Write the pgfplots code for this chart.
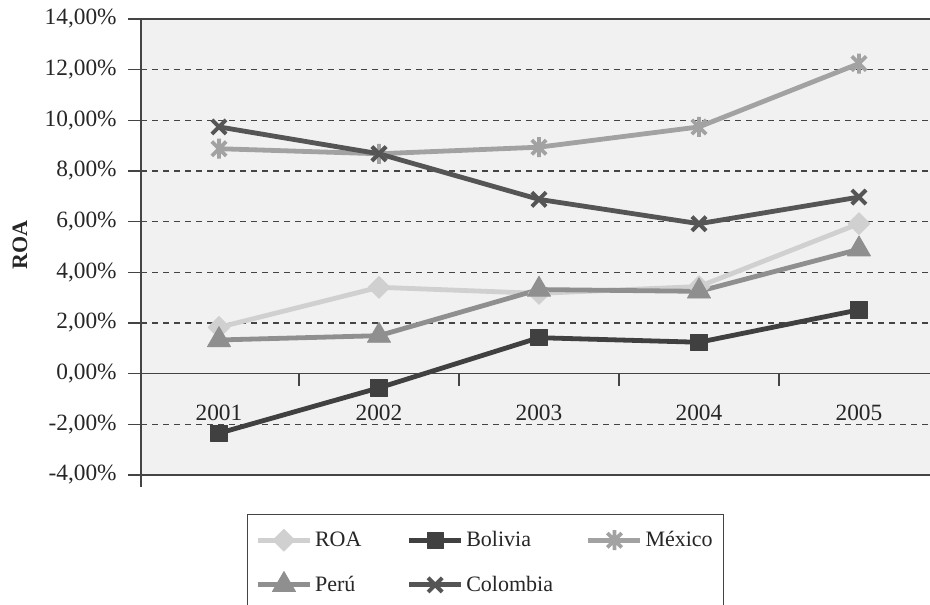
\documentclass[border=0pt]{standalone}
\usepackage{pgfplots}
\pgfplotsset{compat=1.18}
\usepackage{fontspec}
\setmainfont{Liberation Serif}

\definecolor{roa}{HTML}{D0D0D0}
\definecolor{bol}{HTML}{404040}
\definecolor{mex}{HTML}{A2A2A2}
\definecolor{per}{HTML}{8F8F8F}
\definecolor{col}{HTML}{555555}
\definecolor{plotbg}{HTML}{F1F1F1}
\definecolor{axisdark}{HTML}{444444}

\newcommand{\chartfont}{\fontsize{16.5}{19.8}\selectfont}
\newcommand{\tickfont}{\fontsize{17.5}{21}\selectfont}

% star mark: a vertical bar crossed by two diagonals
\pgfdeclareplotmark{xstar}{%
  \pgfpathmoveto{\pgfqpoint{0pt}{\pgfplotmarksize}}%
  \pgfpathlineto{\pgfqpoint{0pt}{-\pgfplotmarksize}}%
  \pgfpathmoveto{\pgfqpoint{-.72\pgfplotmarksize}{.72\pgfplotmarksize}}%
  \pgfpathlineto{\pgfqpoint{.72\pgfplotmarksize}{-.72\pgfplotmarksize}}%
  \pgfpathmoveto{\pgfqpoint{-.72\pgfplotmarksize}{-.72\pgfplotmarksize}}%
  \pgfpathlineto{\pgfqpoint{.72\pgfplotmarksize}{.72\pgfplotmarksize}}%
  \pgfusepathqstroke}

\begin{document}
\begin{tikzpicture}[font=\chartfont]
\begin{axis}[
  at={(105.75pt,-356.25pt)}, anchor=south west,
  scale only axis, width=591.75pt, height=342pt,
  xmin=-0.4875, xmax=4.444,
  ymin=-4, ymax=14,
  clip=false,
  axis line style={draw=none},
  axis background/.style={fill=plotbg},
  xtick=\empty,
  ytick={-4,-2,0,2,4,6,8,10,12,14},
  yticklabels={{-4,00\%},{-2,00\%},{0,00\%},{2,00\%},{4,00\%},{6,00\%},{8,00\%},{10,00\%},{12,00\%},{14,00\%}},
  ytick pos=left,
  tick align=outside, major tick length=9.75pt,
  tick style={draw=axisdark, line width=1pt},
  yticklabel style={font=\tickfont, xshift=-5pt, text=black!85},
  ymajorgrids,
  grid style={draw=axisdark, line width=0.9pt, dash pattern=on 4.5pt off 3.75pt},
  every axis plot/.append style={line width=3.6pt, line join=round},
  legend columns=3,
  legend cell align=left,
  legend style={at={(0.4366,-0.0855)}, anchor=north, draw=axisdark, fill=white,
    font=\chartfont, text=black!85, inner xsep=6pt, inner ysep=11pt, row sep=15pt,
    /tikz/column 2/.style={column sep=32pt},
    /tikz/column 4/.style={column sep=22.75pt}},
  legend image code/.code={\draw[mark repeat=2,mark phase=2] plot coordinates {(0pt,0pt) (19.5pt,0pt) (39pt,0pt)};},
]
% ROA
\addplot[color=roa, mark=square*, mark size=5.8pt, mark options={rotate=45, line width=0.6pt}]
  coordinates {(0,1.83) (1,3.41) (2,3.17) (3,3.44) (4,5.92)};
\addlegendentry{ROA}
% Bolivia
\addplot[color=bol, mark=square*, mark size=6.1pt, mark options={line width=0.6pt}]
  coordinates {(0,-2.35) (1,-0.56) (2,1.42) (3,1.24) (4,2.52)};
\addlegendentry{Bolivia}
% México
\addplot[color=mex, mark=xstar, mark size=7.5pt, mark options={line width=2.8pt}]
  coordinates {(0,8.88) (1,8.68) (2,8.94) (3,9.74) (4,12.24)};
\addlegendentry{México}
% Perú
\addplot[color=per, mark=triangle*, mark size=10pt, mark options={line width=0.6pt}]
  coordinates {(0,1.33) (1,1.50) (2,3.32) (3,3.25) (4,4.91)};
\addlegendentry{Perú}
% Colombia
\addplot[color=col, mark=x, mark size=7.5pt, mark options={line width=3pt}]
  coordinates {(0,9.74) (1,8.68) (2,6.88) (3,5.92) (4,6.97)};
\addlegendentry{Colombia}

% frame lines and the zero line with its category separators
\draw[axisdark, line width=1.5pt] (rel axis cs:0,1) -- (rel axis cs:1,1);
\draw[axisdark, line width=1.5pt] (rel axis cs:0,0) -- (rel axis cs:1,0);
\draw[axisdark, line width=1.2pt] (rel axis cs:0,1) -- (rel axis cs:0,0) -- ++(0pt,-9pt);
\draw[axisdark, line width=1.1pt] (axis cs:-0.4875,0) -- (axis cs:4.444,0);
\draw[axisdark, line width=1pt] (axis cs:0.5,0) -- ++(0pt,-9pt);
\draw[axisdark, line width=1pt] (axis cs:1.5,0) -- ++(0pt,-9pt);
\draw[axisdark, line width=1pt] (axis cs:2.5,0) -- ++(0pt,-9pt);
\draw[axisdark, line width=1pt] (axis cs:3.5,0) -- ++(0pt,-9pt);

% category names below the zero line
\node[anchor=base, font=\tickfont, text=black!85] at (axis cs:0,-1.86) {2001};
\node[anchor=base, font=\tickfont, text=black!85] at (axis cs:1,-1.86) {2002};
\node[anchor=base, font=\tickfont, text=black!85] at (axis cs:2,-1.86) {2003};
\node[anchor=base, font=\tickfont, text=black!85] at (axis cs:3,-1.86) {2004};
\node[anchor=base, font=\tickfont, text=black!85] at (axis cs:4,-1.86) {2005};
\end{axis}
\node[rotate=90, font=\chartfont\bfseries, text=black!85] at (15pt,-183.75pt) {ROA};
\pgfresetboundingbox
\useasboundingbox (0pt,0pt) rectangle (697.5pt,-453.75pt);
\end{tikzpicture}
\end{document}
